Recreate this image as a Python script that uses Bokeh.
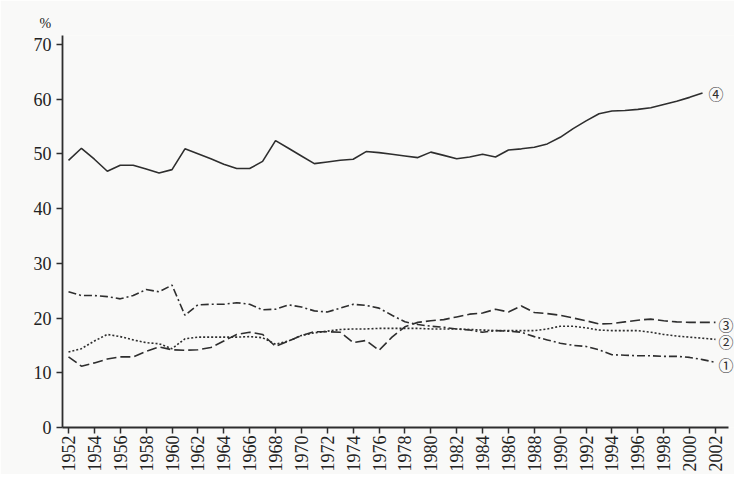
import math
from bokeh.plotting import figure
from bokeh.models import FixedTicker, Label, Range1d
from bokeh.embed import file_html
from bokeh.resources import INLINE

# ---- data ----
years = list(range(1952, 2003))          # 1952 .. 2002
years4 = list(range(1952, 2002))         # series 4 ends 2001

s1 = [24.8, 24.1, 24.1, 23.9, 23.5, 24.1, 25.2, 24.8, 26.0, 20.5,
      22.4, 22.5, 22.5, 22.8, 22.5, 21.5, 21.6, 22.4, 22.0, 21.3,
      21.1, 21.8, 22.5, 22.3, 21.8, 20.5, 19.3, 18.8, 18.5, 18.3,
      18.0, 17.8, 17.4, 17.7, 17.6, 17.4, 16.6, 16.0, 15.4, 15.0,
      14.8, 14.2, 13.3, 13.2, 13.1, 13.1, 13.0, 13.0, 12.8, 12.4,
      11.9]
s2 = [13.8, 14.4, 15.8, 17.0, 16.6, 16.0, 15.5, 15.3, 14.4, 16.2,
      16.5, 16.5, 16.5, 16.5, 16.6, 16.4, 15.2, 15.8, 16.8, 17.3,
      17.6, 17.9, 18.0, 18.0, 18.1, 18.1, 18.1, 18.1, 18.0, 18.0,
      18.0, 17.9, 17.8, 17.7, 17.7, 17.7, 17.7, 18.0, 18.5, 18.5,
      18.2, 17.8, 17.7, 17.7, 17.7, 17.4, 17.0, 16.7, 16.5, 16.3,
      16.1]
s3 = [12.9, 11.2, 11.8, 12.5, 12.9, 12.9, 13.9, 14.7, 14.2, 14.1,
      14.2, 14.6, 15.8, 17.0, 17.4, 17.0, 14.8, 15.8, 16.8, 17.5,
      17.5, 17.4, 15.5, 15.9, 14.1, 16.5, 18.4, 19.2, 19.5, 19.7,
      20.2, 20.7, 20.9, 21.6, 21.1, 22.2, 21.0, 20.8, 20.5, 20.0,
      19.5, 18.9, 19.0, 19.3, 19.6, 19.8, 19.5, 19.3, 19.2, 19.2,
      19.2]
s4 = [48.8, 51.0, 49.0, 46.8, 47.9, 47.9, 47.2, 46.5, 47.1, 50.9,
      50.0, 49.1, 48.1, 47.3, 47.3, 48.6, 52.4, 51.0, 49.6, 48.2,
      48.5, 48.8, 49.0, 50.4, 50.2, 49.9, 49.6, 49.3, 50.3, 49.7,
      49.1, 49.4, 49.9, 49.4, 50.7, 50.9, 51.2, 51.8, 53.0, 54.6,
      56.0, 57.3, 57.8, 57.9, 58.1, 58.4, 59.0, 59.6, 60.3, 61.1]

x_ticks = list(range(1952, 2003, 2))
y_ticks = [0, 10, 20, 30, 40, 50, 60, 70]
series_labels = ["①", "②", "③", "④"]
unit_label = "%"

X_START, X_END = 1951.536, 2003.47
AXIS_X_END = 2003.0
Y_START, Y_END = 0, 71.6

INK = "#2e2e2e"
BG = "#f9f9f8"
SERIF = "Liberation Serif"

p = figure(width=734, height=474, output_backend="svg", toolbar_location=None,
           x_range=Range1d(X_START, X_END), y_range=Range1d(Y_START, Y_END),
           min_border_left=62, min_border_right=0, min_border_top=35,
           min_border_bottom=45, title=unit_label)
p.background_fill_color = BG
p.border_fill_color = BG
p.outline_line_color = None
p.grid.visible = False

p.title.align = "left"
p.title.offset = -23
p.title.standoff = 9
p.title.text_font = SERIF
p.title.text_font_size = "14px"
p.title.text_font_style = "normal"
p.title.text_color = "#222222"

for ax in (p.xaxis, p.yaxis):
    ax.axis_line_color = INK
    ax.axis_line_width = 1.8
    ax.major_tick_line_color = INK
    ax.major_tick_line_width = 1.5
    ax.major_tick_in = 0
    ax.major_tick_out = 6
    ax.minor_tick_line_color = None
    ax.major_label_text_font = SERIF
    ax.major_label_text_font_size = "18px"
    ax.major_label_text_color = "#222222"

p.xaxis.ticker = FixedTicker(ticks=x_ticks)
p.xaxis.bounds = (X_START, AXIS_X_END)
p.xaxis.major_label_orientation = math.pi / 2
p.xaxis.major_label_standoff = 2
p.yaxis.ticker = FixedTicker(ticks=y_ticks)
p.yaxis.major_label_standoff = 5

lw = 1.6
p.line(years, s1, line_color=INK, line_width=lw, line_dash="8 3 2 3")
p.line(years, s2, line_color=INK, line_width=lw, line_dash="2 2")
p.line(years, s3, line_color=INK, line_width=lw, line_dash="10 4")
p.line(years4, s4, line_color=INK, line_width=lw)

ends = [(years[-1], s1[-1], 3, -2), (years[-1], s2[-1], 3, -2),
        (years[-1], s3[-1], 3, -2), (years4[-1], s4[-1], 6, -1)]
for txt, (ex, ey, xo, yo) in zip(series_labels, ends):
    p.add_layout(Label(x=ex, y=ey, x_offset=xo, y_offset=yo, text=txt,
                       text_font="Noto Sans CJK SC", text_font_size="15px",
                       text_color=INK, text_align="left",
                       text_baseline="middle"))

open("out.html", "w").write(file_html(p, INLINE))
